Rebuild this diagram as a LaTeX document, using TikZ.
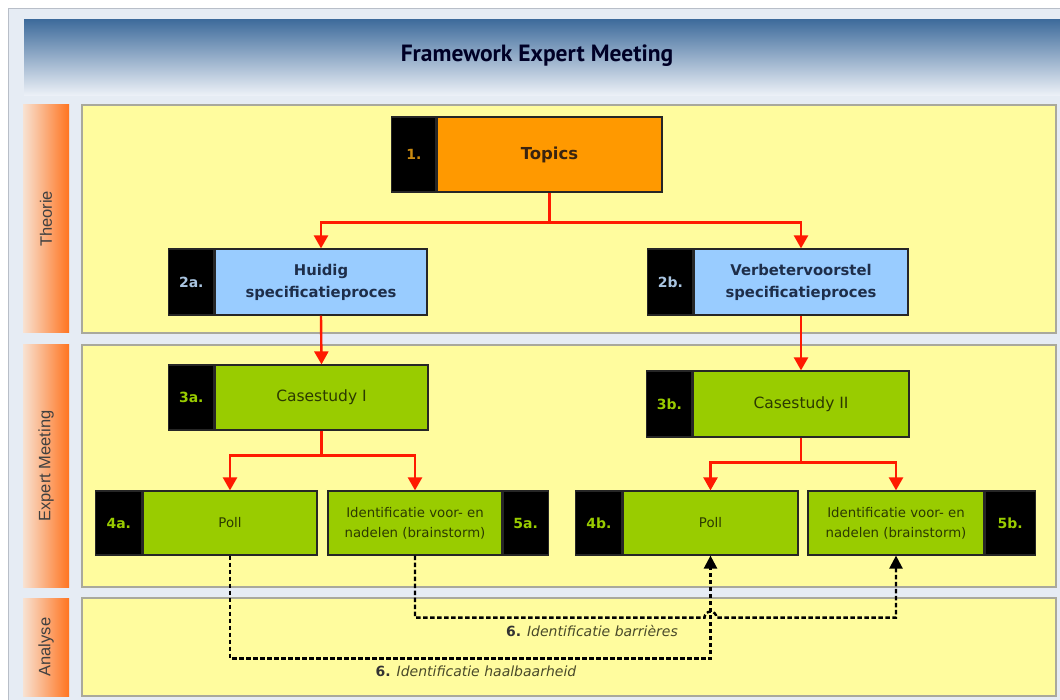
\documentclass[tikz,border=0pt]{standalone}
\usepackage{fontspec}
\setmainfont{DejaVu Sans}
\newfontfamily\tabfont{Liberation Sans}
\newfontfamily\titlefont{PT Sans}
\usetikzlibrary{arrows.meta,calc}

\definecolor{framefill}{HTML}{E6ECF4}
\definecolor{frameline}{HTML}{B8BEC8}
\definecolor{hdrtop}{HTML}{3F6C9C}
\definecolor{hdrbot}{HTML}{EEF2F8}
\definecolor{tabl}{HTML}{F8E2D2}
\definecolor{tabr}{HTML}{FF7420}
\definecolor{panelfill}{HTML}{FFFC9E}
\definecolor{panelline}{HTML}{A9A99C}
\definecolor{orangefill}{HTML}{FF9900}
\definecolor{bluefill}{HTML}{99CCFF}
\definecolor{greenfill}{HTML}{99CC00}
\definecolor{numorange}{HTML}{C98A10}
\definecolor{numblue}{HTML}{A9C4E0}
\definecolor{numgreen}{HTML}{99CC00}
\definecolor{topicstext}{HTML}{3A2410}
\definecolor{bluetext}{HTML}{1E2E4A}
\definecolor{greentext}{HTML}{2C3A00}
\definecolor{flowred}{HTML}{FF1A00}
\definecolor{labeltext}{HTML}{4A4A2A}

\begin{document}
\begin{tikzpicture}[x=1pt,y=-1pt,
  frame/.style={fill=framefill,draw=frameline,line width=0.8pt},
  panel/.style={fill=panelfill,draw=panelline,line width=1.2pt},
  tablabel/.style={rotate=90,text=black!75,font=\tabfont\fontsize{16.5}{18}\selectfont},
  boxbase/.style={draw=black!85,line width=1.2pt,align=center,inner sep=0pt},
  numbox/.style={boxbase,fill=black,font=\bfseries\fontsize{14}{16}\selectfont},
  orangebox/.style={boxbase,fill=orangefill,text=topicstext,font=\bfseries\fontsize{16.5}{18}\selectfont},
  bluebox/.style={boxbase,fill=bluefill,text=bluetext,font=\bfseries\fontsize{14.8}{22}\selectfont},
  greenbox/.style={boxbase,fill=greenfill,text=greentext,font=\fontsize{13.3}{20}\selectfont},
  casebox/.style={greenbox,font=\fontsize{15.5}{18}\selectfont},
  redline/.style={draw=flowred,line width=2.4pt},
  redarrow/.style={redline,-{Triangle[width=14pt,length=13pt]}},
  dasharrow/.style={draw=black,line width=2.4pt,dash pattern=on 4.5pt off 2.5pt,
    -{Triangle[width=13pt,length=13pt]}},
  flowlabel/.style={text=labeltext,font=\fontsize{14}{16}\selectfont}
]
\useasboundingbox (0,0) rectangle (1060,700);
\fill[white] (0,0) rectangle (1060,700);
\draw[frame] (8,8) rectangle (1066,706);

% header band
\shade[top color=hdrtop,bottom color=hdrbot] (24,20) rectangle (1060,96);
\node[text=black!85!blue,font=\titlefont\bfseries\fontsize{23.5}{26}\selectfont] (title) at (537,56) {Framework Expert Meeting};

% phase tabs
\shade[left color=tabl,right color=tabr] (23,105) rectangle (69,333);
\shade[left color=tabl,right color=tabr] (23,345) rectangle (69,587);
\shade[left color=tabl,right color=tabr] (23,598) rectangle (69,696);
\node[tablabel] (tabTheorie) at (46,219) {Theorie};
\node[tablabel] (tabExpert) at (46,466) {Expert Meeting};
\node[tablabel] (tabAnalyse) at (46,647) {Analyse};

% phase panels
\draw[panel] (82,105) rectangle (1056,333);
\draw[panel] (82,345) rectangle (1056,587);
\draw[panel] (82,598) rectangle (1056,696);

% step 1
\node[orangebox,minimum width=225,minimum height=75] (topics) at (549.5,154.5) {Topics};
\node[numbox,text=numorange,minimum width=44,minimum height=75,anchor=east] (n1) at (topics.west) {1.};

% step 2
\node[bluebox,minimum width=212,minimum height=66] (b2a) at (321,282) {Huidig\\specificatieproces};
\node[numbox,text=numblue,minimum width=45,minimum height=66,anchor=east] (n2a) at (b2a.west) {2a.};
\node[bluebox,minimum width=214,minimum height=66] (b2b) at (801,282) {Verbetervoorstel\\specificatieproces};
\node[numbox,text=numblue,minimum width=45,minimum height=66,anchor=east] (n2b) at (b2b.west) {2b.};

% step 3
\node[casebox,minimum width=213,minimum height=65] (g3a) at (321.5,397.5) {Casestudy I};
\node[numbox,text=numgreen,minimum width=45,minimum height=65,anchor=east] (n3a) at (g3a.west) {3a.};
\node[casebox,minimum width=216,minimum height=66] (g3b) at (801,404) {Casestudy II};
\node[numbox,text=numgreen,minimum width=45,minimum height=66,anchor=east] (n3b) at (g3b.west) {3b.};

% steps 4 and 5
\node[greenbox,minimum width=174,minimum height=64] (g4a) at (230,523) {Poll};
\node[numbox,text=numgreen,minimum width=46,minimum height=64,anchor=east] (n4a) at (g4a.west) {4a.};
\node[greenbox,minimum width=174,minimum height=64] (g5a) at (415,523) {Identificatie voor- en\\nadelen (brainstorm)};
\node[numbox,text=numgreen,minimum width=45,minimum height=64,anchor=west] (n5a) at (g5a.east) {5a.};
\node[greenbox,minimum width=175,minimum height=64] (g4b) at (710.5,523) {Poll};
\node[numbox,text=numgreen,minimum width=46,minimum height=64,anchor=east] (n4b) at (g4b.west) {4b.};
\node[greenbox,minimum width=176,minimum height=64] (g5b) at (896,523) {Identificatie voor- en\\nadelen (brainstorm)};
\node[numbox,text=numgreen,minimum width=50,minimum height=64,anchor=west] (n5b) at (g5b.east) {5b.};

% red flow
\draw[redarrow] (topics.south) -- ++(0,30) -| (b2a.north);
\draw[redarrow] (topics.south) -- ++(0,30) -| (b2b.north);
\draw[redarrow] (b2a.south) -- (g3a.north);
\draw[redarrow] (b2b.south) -- (g3b.north);
\draw[redarrow] (g3a.south) -- ++(0,25) -| (g4a.north);
\draw[redarrow] (g3a.south) -- ++(0,25) -| (g5a.north);
\draw[redarrow] (g3b.south) -- ++(0,25) -| (g4b.north);
\draw[redarrow] (g3b.south) -- ++(0,25) -| (g5b.north);

% analysis feedback (dashed)
\draw[dasharrow] (g4a.south) -- ++(0,103) -| (g4b.south);
\path (g5a.south) ++(0,62) coordinate (d5top);
\coordinate (hopL) at ($(d5top -| g4b.south)+(-6,0)$);
\draw[dasharrow] (g5a.south) -- (d5top) -- (hopL)
  arc[start angle=180,end angle=360,radius=6] -| (g5b.south);

\node[flowlabel] (labBarrieres) at (592,631) {\textbf{\color{black!80}6.} \textit{Identificatie barrières}};
\node[flowlabel] (labHaalbaar) at (476,671) {\textbf{\color{black!80}6.} \textit{Identificatie haalbaarheid}};
\end{tikzpicture}
\end{document}
